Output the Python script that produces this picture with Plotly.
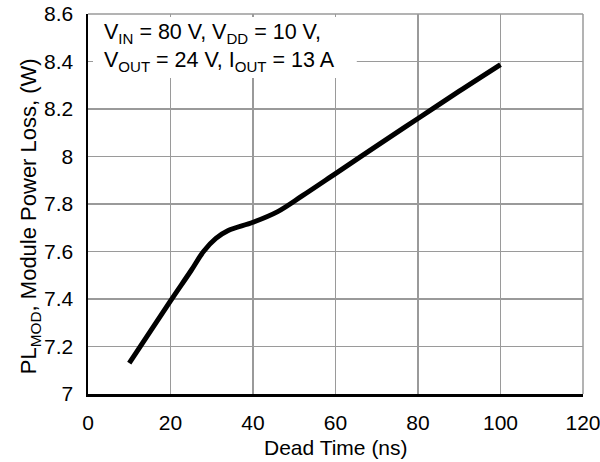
import plotly.graph_objects as go

dead_time = [10, 20, 25, 28, 31, 34, 40, 46, 52, 60, 70, 80, 90, 100]
power_loss = [7.13, 7.392, 7.52, 7.6, 7.655, 7.688, 7.723, 7.768, 7.835, 7.928, 8.045, 8.16, 8.275, 8.387]

x_ticks = [0, 20, 40, 60, 80, 100, 120]
y_ticks = [7, 7.2, 7.4, 7.6, 7.8, 8, 8.2, 8.4, 8.6]
y_tick_text = ["7", "7.2", "7.4", "7.6", "7.8", "8", "8.2", "8.4", "8.6"]

x_title = "Dead Time (ns)"
y_title = "PL<sub>MOD</sub>, Module Power Loss, (W)"
note_line1 = "V<sub>IN</sub> = 80 V, V<sub>DD</sub> = 10 V,"
note_line2 = "V<sub>OUT</sub> = 24 V, I<sub>OUT</sub> = 13 A"

FONT = "Liberation Sans, Arial, sans-serif"
GRID = "#9a9a9a"

fig = go.Figure()
fig.add_trace(go.Scatter(x=dead_time, y=power_loss, mode="lines",
                         line=dict(color="black", width=5, shape="spline", smoothing=1.0),
                         showlegend=False, hoverinfo="skip"))

axis_common = dict(showgrid=True, gridcolor=GRID, gridwidth=1.5, zeroline=False, showline=True,
                   linecolor="black", linewidth=2.5, ticks="", automargin=False,
                   ticklabeloverflow="allow",
                   tickfont=dict(family=FONT, size=21, color="black"))

fig.update_layout(
    width=600, height=462,
    margin=dict(l=88, r=17, t=14, b=68),
    plot_bgcolor="white", paper_bgcolor="white",
    font=dict(family=FONT, size=21, color="black"),
    xaxis=dict(range=[0, 120], tickvals=x_ticks, ticklabelstandoff=8, **axis_common),
    yaxis=dict(range=[7, 8.6], tickvals=y_ticks, ticktext=y_tick_text, ticklabelstandoff=8,
               **axis_common),
    shapes=[
        dict(type="line", xref="paper", yref="paper", x0=1, x1=1, y0=0, y1=1,
             line=dict(color=GRID, width=1.5)),
        dict(type="line", xref="paper", yref="paper", x0=0, x1=1, y0=1, y1=1,
             line=dict(color=GRID, width=1.5)),
        dict(type="rect", xref="paper", yref="paper", x0=0.0101, x1=0.543, y0=0.8316, y1=0.992,
             fillcolor="white", line=dict(width=0), layer="above"),
    ],
    annotations=[
        dict(xref="paper", yref="paper", x=0.0283, y=0.950, xanchor="left", yanchor="middle",
             text=note_line1, showarrow=False, font=dict(family=FONT, size=21.5, color="black")),
        dict(xref="paper", yref="paper", x=0.0283, y=0.876, xanchor="left", yanchor="middle",
             text=note_line2, showarrow=False, font=dict(family=FONT, size=21.5, color="black")),
        dict(xref="paper", yref="paper", x=0.5, y=-0.142, xanchor="center", yanchor="middle",
             text=x_title, showarrow=False, font=dict(family=FONT, size=21, color="black")),
        dict(xref="paper", yref="paper", x=-0.117, y=0.468, xanchor="center", yanchor="middle",
             text=y_title, textangle=-90, showarrow=False,
             font=dict(family=FONT, size=22, color="black")),
    ],
)

fig.write_html("out.html", config={"displayModeBar": False, "staticPlot": True},
               post_script="document.body.style.margin='0';document.body.style.padding='0';"
                           "document.documentElement.style.overflow='hidden';")
